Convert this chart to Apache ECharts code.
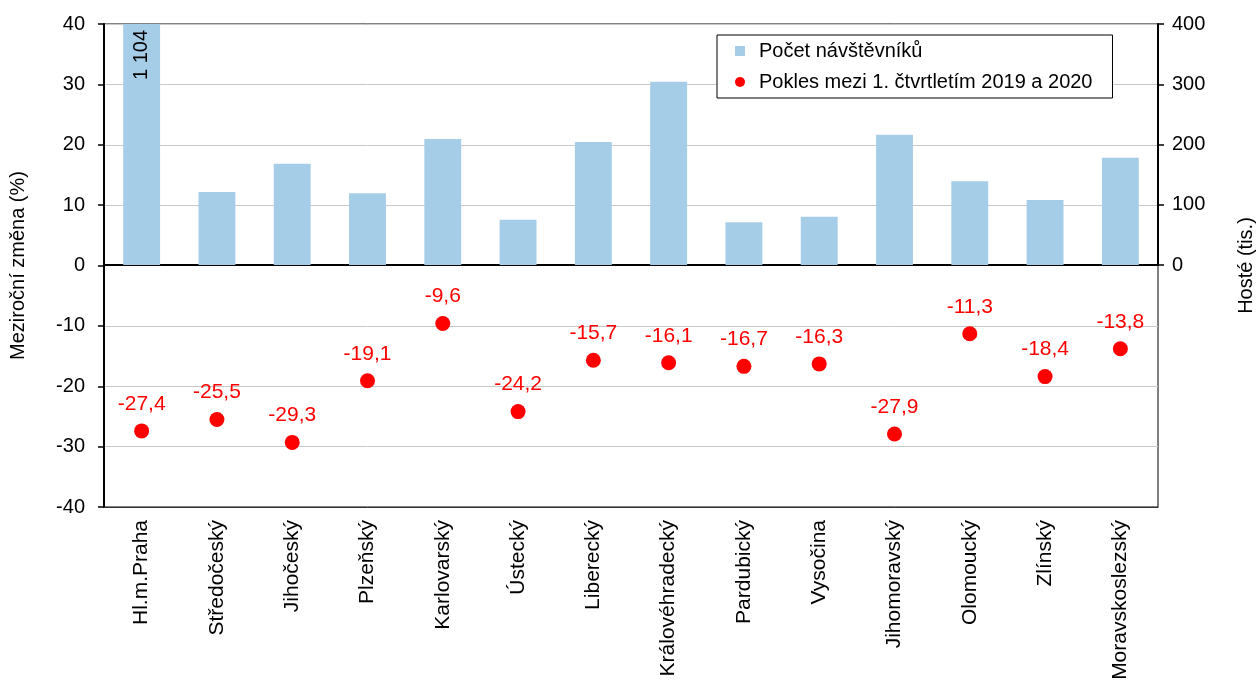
<!DOCTYPE html>
<html>
<head>
<meta charset="utf-8">
<script src="https://cdn.jsdelivr.net/npm/echarts@6/dist/echarts.min.js"></script>
<style>html,body{margin:0;padding:0;background:#fff}#c{width:1257px;height:680px}</style>
</head>
<body>
<div id="c"></div>
<script>
const categories = ['Hl.m.Praha','Středočeský','Jihočeský','Plzeňský','Karlovarský','Ústecký','Liberecký','Královéhradecký','Pardubický','Vysočina','Jihomoravský','Olomoucký','Zlínský','Moravskoslezský'];
const visitors = [1104, 121, 168, 119, 209, 75, 204, 304, 71, 80, 216, 139, 108, 178];
const change = [-27.4, -25.5, -29.3, -19.1, -9.6, -24.2, -15.7, -16.1, -16.7, -16.3, -27.9, -11.3, -18.4, -13.8];
const leftTicks = [-40, -30, -20, -10, 0, 10, 20, 30, 40];
const rightTicks = [0, 100, 200, 300, 400];

const FONT = 'Liberation Sans';
const FS = 20;
const chart = echarts.init(document.getElementById('c'));
const G = {left: 104, right: 99, top: 24, bottom: 173};
chart.setOption({
  animation: false,
  textStyle: {fontFamily: FONT},
  legend: {
    orient: 'vertical', left: 717, top: 35,
    backgroundColor: '#fff', borderColor: '#000', borderWidth: 1,
    padding: [6, 20, 6, 18], itemGap: 11, itemWidth: 10, itemHeight: 10,
    textStyle: {fontSize: FS, color: '#000', fontFamily: FONT, padding: [0, 0, 0, 9]},
    data: [{name: 'Počet návštěvníků', icon: 'rect'}, {name: 'Pokles mezi 1. čtvrtletím 2019 a 2020', icon: 'circle'}]
  },
  grid: [
    {left: G.left, right: G.right, top: G.top, bottom: G.bottom, show: true, borderColor: '#000', borderWidth: 1, backgroundColor: 'transparent', containLabel: false, outerBoundsMode: 'none'},
    {left: G.left, right: G.right, top: G.top, height: 241, containLabel: false, outerBoundsMode: 'none'}
  ],
  xAxis: [
    {type: 'category', gridIndex: 0, data: categories, position: 'bottom',
     axisLine: {onZero: false, lineStyle: {color: '#333', width: 1}}, axisTick: {show: false},
     axisLabel: {rotate: 90, fontSize: 21, color: '#000', margin: 13, fontFamily: FONT, interval: 0}},
    {type: 'category', gridIndex: 1, data: categories, position: 'bottom',
     axisLine: {onZero: false, lineStyle: {color: '#000', width: 2}}, axisTick: {show: false}, axisLabel: {show: false}}
  ],
  yAxis: [
    {type: 'value', gridIndex: 0, min: leftTicks[0], max: leftTicks[leftTicks.length-1], interval: 10, position: 'left',
     name: 'Meziroční změna (%)', nameLocation: 'middle', nameGap: 76, nameRotate: 90,
     nameTextStyle: {fontSize: FS, color: '#000', fontFamily: FONT},
     axisLine: {show: true, lineStyle: {color: '#000', width: 2}},
     axisTick: {show: true, length: 6, lineStyle: {color: '#000', width: 1.5}},
     axisLabel: {fontSize: FS, color: '#000', margin: 19, fontFamily: FONT},
     splitLine: {show: true, lineStyle: {color: '#c8c8c8', width: 1}}},
    {type: 'value', gridIndex: 0, min: -40, max: 40, position: 'right',
     name: 'Hosté (tis.)', nameLocation: 'middle', nameGap: 78, nameRotate: 90,
     nameTextStyle: {fontSize: FS, color: '#000', fontFamily: FONT},
     axisLine: {show: false}, axisTick: {show: false}, axisLabel: {show: false}, splitLine: {show: false}},
    {type: 'value', gridIndex: 1, min: rightTicks[0], max: rightTicks[rightTicks.length-1], interval: 100, position: 'right',
     axisLine: {show: true, lineStyle: {color: '#000', width: 2}},
     axisTick: {show: true, length: 6, lineStyle: {color: '#000', width: 1.5}},
     axisLabel: {fontSize: FS, color: '#000', margin: 14, fontFamily: FONT},
     splitLine: {show: false}}
  ],
  series: [
    {name: 'Počet návštěvníků', type: 'bar', xAxisIndex: 1, yAxisIndex: 2, data: visitors, barWidth: '49%', clip: true,
     itemStyle: {color: '#a6cde8'},
     label: {show: true, position: 'insideTop', rotate: 90, align: 'right', verticalAlign: 'middle', distance: 6, fontSize: FS, color: '#000', fontFamily: FONT,
       formatter: p => p.value > 400 ? String(p.value).replace(/\B(?=(\d{3})+$)/g, ' ') : ''}},
    {name: 'Pokles mezi 1. čtvrtletím 2019 a 2020', type: 'scatter', xAxisIndex: 0, yAxisIndex: 0, data: change, symbolSize: 15,
     itemStyle: {color: '#ff0000', opacity: 1},
     label: {show: true, position: 'top', distance: 9, fontSize: 21, color: '#ff0000', fontFamily: FONT,
       formatter: p => p.value.toFixed(1).replace('.', ',')}}
  ]
});
</script>
</body>
</html>
